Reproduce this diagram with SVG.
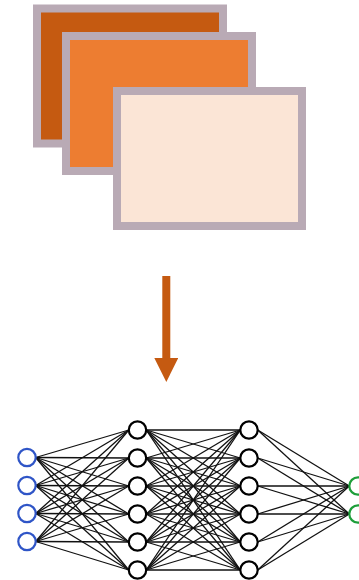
<svg xmlns="http://www.w3.org/2000/svg" width="359" height="580" viewBox="0 0 359 580">
  <style>
    .frame { stroke: #B9AAB5; stroke-width: 8; }
    .edge { stroke: #111111; stroke-width: 1.3; }
    .node { fill: #ffffff; stroke-width: 2.2; }
    .in { stroke: #2F55C7; }
    .hid { stroke: #000000; }
    .out { stroke: #1E9E3A; }
  </style>
  <defs>
    <marker id="head" viewBox="0 0 24 24" markerWidth="24" markerHeight="24" refX="0" refY="12" markerUnits="userSpaceOnUse" orient="auto">
      <path d="M0,0 L24,12 L0,24 Z" fill="#C55A11"/>
    </marker>
  </defs>

  <!-- stacked image frames -->
  <g id="frame-back"><rect class="frame" x="37" y="8.5" width="186" height="135" fill="#C55A11"/></g>
  <g id="frame-middle"><rect class="frame" x="66" y="36" width="186" height="135" fill="#ED7D31"/></g>
  <g id="frame-front"><rect class="frame" x="117" y="91" width="185" height="135" fill="#FBE5D6"/></g>

  <!-- downward arrow -->
  <g id="arrow">
    <line x1="166.3" y1="276" x2="166.3" y2="358" stroke="#C55A11" stroke-width="8" marker-end="url(#head)"/>
  </g>

  <!-- network connections -->
  <g id="connectors">
    <!-- input -> hidden 1 -->
    <g id="c-in-h1">
      <line class="edge" x1="35.7" y1="457.5" x2="128.8" y2="430"/><line class="edge" x1="35.7" y1="457.5" x2="128.8" y2="458"/><line class="edge" x1="35.7" y1="457.5" x2="128.8" y2="486"/><line class="edge" x1="35.7" y1="457.5" x2="128.8" y2="514"/><line class="edge" x1="35.7" y1="457.5" x2="128.8" y2="542"/><line class="edge" x1="35.7" y1="457.5" x2="128.8" y2="570"/>
      <line class="edge" x1="35.7" y1="485.5" x2="128.8" y2="430"/><line class="edge" x1="35.7" y1="485.5" x2="128.8" y2="458"/><line class="edge" x1="35.7" y1="485.5" x2="128.8" y2="486"/><line class="edge" x1="35.7" y1="485.5" x2="128.8" y2="514"/><line class="edge" x1="35.7" y1="485.5" x2="128.8" y2="542"/><line class="edge" x1="35.7" y1="485.5" x2="128.8" y2="570"/>
      <line class="edge" x1="35.7" y1="513.5" x2="128.8" y2="430"/><line class="edge" x1="35.7" y1="513.5" x2="128.8" y2="458"/><line class="edge" x1="35.7" y1="513.5" x2="128.8" y2="486"/><line class="edge" x1="35.7" y1="513.5" x2="128.8" y2="514"/><line class="edge" x1="35.7" y1="513.5" x2="128.8" y2="542"/><line class="edge" x1="35.7" y1="513.5" x2="128.8" y2="570"/>
      <line class="edge" x1="35.7" y1="541.5" x2="128.8" y2="430"/><line class="edge" x1="35.7" y1="541.5" x2="128.8" y2="458"/><line class="edge" x1="35.7" y1="541.5" x2="128.8" y2="486"/><line class="edge" x1="35.7" y1="541.5" x2="128.8" y2="514"/><line class="edge" x1="35.7" y1="541.5" x2="128.8" y2="542"/><line class="edge" x1="35.7" y1="541.5" x2="128.8" y2="570"/>
    </g>
    <!-- hidden 1 -> hidden 2 -->
    <g id="c-h1-h2">
      <line class="edge" x1="146.2" y1="430" x2="240.3" y2="430"/><line class="edge" x1="146.2" y1="430" x2="240.3" y2="458"/><line class="edge" x1="146.2" y1="430" x2="240.3" y2="486"/><line class="edge" x1="146.2" y1="430" x2="240.3" y2="514"/><line class="edge" x1="146.2" y1="430" x2="240.3" y2="542"/><line class="edge" x1="146.2" y1="430" x2="240.3" y2="570"/>
      <line class="edge" x1="146.2" y1="458" x2="240.3" y2="430"/><line class="edge" x1="146.2" y1="458" x2="240.3" y2="458"/><line class="edge" x1="146.2" y1="458" x2="240.3" y2="486"/><line class="edge" x1="146.2" y1="458" x2="240.3" y2="514"/><line class="edge" x1="146.2" y1="458" x2="240.3" y2="542"/><line class="edge" x1="146.2" y1="458" x2="240.3" y2="570"/>
      <line class="edge" x1="146.2" y1="486" x2="240.3" y2="430"/><line class="edge" x1="146.2" y1="486" x2="240.3" y2="458"/><line class="edge" x1="146.2" y1="486" x2="240.3" y2="486"/><line class="edge" x1="146.2" y1="486" x2="240.3" y2="514"/><line class="edge" x1="146.2" y1="486" x2="240.3" y2="542"/><line class="edge" x1="146.2" y1="486" x2="240.3" y2="570"/>
      <line class="edge" x1="146.2" y1="514" x2="240.3" y2="430"/><line class="edge" x1="146.2" y1="514" x2="240.3" y2="458"/><line class="edge" x1="146.2" y1="514" x2="240.3" y2="486"/><line class="edge" x1="146.2" y1="514" x2="240.3" y2="514"/><line class="edge" x1="146.2" y1="514" x2="240.3" y2="542"/><line class="edge" x1="146.2" y1="514" x2="240.3" y2="570"/>
      <line class="edge" x1="146.2" y1="542" x2="240.3" y2="430"/><line class="edge" x1="146.2" y1="542" x2="240.3" y2="458"/><line class="edge" x1="146.2" y1="542" x2="240.3" y2="486"/><line class="edge" x1="146.2" y1="542" x2="240.3" y2="514"/><line class="edge" x1="146.2" y1="542" x2="240.3" y2="542"/><line class="edge" x1="146.2" y1="542" x2="240.3" y2="570"/>
      <line class="edge" x1="146.2" y1="570" x2="240.3" y2="430"/><line class="edge" x1="146.2" y1="570" x2="240.3" y2="458"/><line class="edge" x1="146.2" y1="570" x2="240.3" y2="486"/><line class="edge" x1="146.2" y1="570" x2="240.3" y2="514"/><line class="edge" x1="146.2" y1="570" x2="240.3" y2="542"/><line class="edge" x1="146.2" y1="570" x2="240.3" y2="570"/>
    </g>
    <!-- hidden 2 -> output -->
    <g id="c-h2-out">
      <line class="edge" x1="257.7" y1="430" x2="349.3" y2="486"/><line class="edge" x1="257.7" y1="430" x2="349.3" y2="514"/>
      <line class="edge" x1="257.7" y1="458" x2="349.3" y2="486"/><line class="edge" x1="257.7" y1="458" x2="349.3" y2="514"/>
      <line class="edge" x1="257.7" y1="486" x2="349.3" y2="486"/><line class="edge" x1="257.7" y1="486" x2="349.3" y2="514"/>
      <line class="edge" x1="257.7" y1="514" x2="349.3" y2="486"/><line class="edge" x1="257.7" y1="514" x2="349.3" y2="514"/>
      <line class="edge" x1="257.7" y1="542" x2="349.3" y2="486"/><line class="edge" x1="257.7" y1="542" x2="349.3" y2="514"/>
      <line class="edge" x1="257.7" y1="570" x2="349.3" y2="486"/><line class="edge" x1="257.7" y1="570" x2="349.3" y2="514"/>
    </g>
  </g>

  <!-- input layer -->
  <g id="in1"><circle class="node in" cx="27" cy="457.5" r="8.7"/></g>
  <g id="in2"><circle class="node in" cx="27" cy="485.5" r="8.7"/></g>
  <g id="in3"><circle class="node in" cx="27" cy="513.5" r="8.7"/></g>
  <g id="in4"><circle class="node in" cx="27" cy="541.5" r="8.7"/></g>

  <!-- hidden layer 1 -->
  <g id="h1-1"><circle class="node hid" cx="137.5" cy="430" r="8.7"/></g>
  <g id="h1-2"><circle class="node hid" cx="137.5" cy="458" r="8.7"/></g>
  <g id="h1-3"><circle class="node hid" cx="137.5" cy="486" r="8.7"/></g>
  <g id="h1-4"><circle class="node hid" cx="137.5" cy="514" r="8.7"/></g>
  <g id="h1-5"><circle class="node hid" cx="137.5" cy="542" r="8.7"/></g>
  <g id="h1-6"><circle class="node hid" cx="137.5" cy="570" r="8.7"/></g>

  <!-- hidden layer 2 -->
  <g id="h2-1"><circle class="node hid" cx="249" cy="430" r="8.7"/></g>
  <g id="h2-2"><circle class="node hid" cx="249" cy="458" r="8.7"/></g>
  <g id="h2-3"><circle class="node hid" cx="249" cy="486" r="8.7"/></g>
  <g id="h2-4"><circle class="node hid" cx="249" cy="514" r="8.7"/></g>
  <g id="h2-5"><circle class="node hid" cx="249" cy="542" r="8.7"/></g>
  <g id="h2-6"><circle class="node hid" cx="249" cy="570" r="8.7"/></g>

  <!-- output layer -->
  <g id="out1"><circle class="node out" cx="358" cy="486" r="8.7"/></g>
  <g id="out2"><circle class="node out" cx="358" cy="514" r="8.7"/></g>
</svg>
